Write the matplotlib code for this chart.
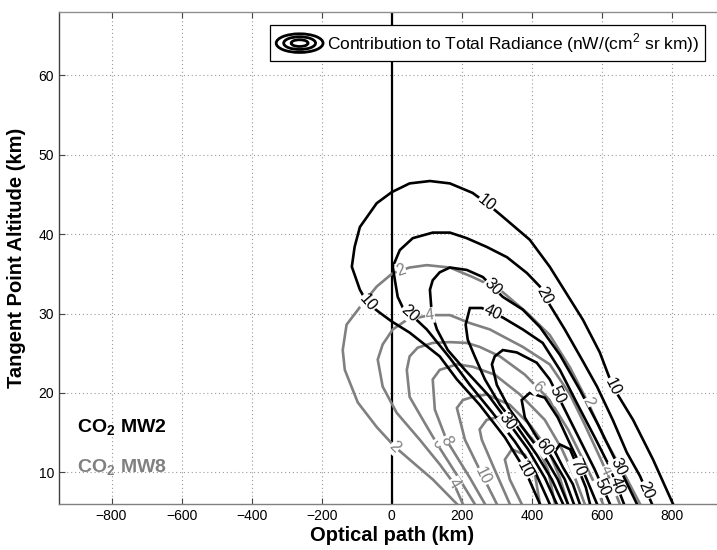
import numpy as np
import matplotlib
matplotlib.use("Agg")
import matplotlib.pyplot as plt
from matplotlib.patches import Ellipse
from matplotlib.legend_handler import HandlerBase
from matplotlib.lines import Line2D

plt.rcParams['font.family'] = ['Liberation Sans', 'DejaVu Sans']
plt.rcParams['mathtext.fontset'] = 'custom'
plt.rcParams['mathtext.rm'] = 'Liberation Sans'
plt.rcParams['mathtext.bf'] = 'Liberation Sans:bold'

# contour lines: optical path (km) vs tangent altitude (km)
mw2_levels = [10, 20, 30, 40, 50, 60, 70]
mw2_x = [
    [423, 380, 323, 251, 186, 137, 51, 0, -34, -69, -91, -114, -106, -91, -43, 0, 51, 109, 166, 231,
     271, 317, 394, 451, 546, 594, 631, 689, 746, 803],
    [451, 409, 351, 286, 223, 166, 100, 71, 31, 17, 9, 3, 23, 60, 117, 166, 214, 271, 329, 386,
     423, 451, 494, 543, 586, 631, 671, 709, 743],
    [471, 437, 389, 331, 274, 209, 160, 129, 114, 109, 117, 137, 166, 214, 260, 317, 374, 423, 480, 537,
     589, 631, 666, 700],
    [489, 457, 414, 360, 309, 266, 237, 217, 211, 223, 257, 317, 374, 431, 480, 531, 583, 623, 663],
    [503, 474, 437, 389, 337, 300, 286, 294, 317, 357, 414, 451, 494, 537, 580, 623],
    [520, 494, 457, 414, 380, 371, 394, 437, 474, 514, 551, 586],
    [537, 517, 489, 466, 480, 509, 531, 554, 566],
]
mw2_alt = [
    [6.0, 10.3, 14.4, 18.5, 21.7, 24.6, 27.6, 29.0, 30.1, 31.3, 33.0, 35.9, 38.4, 40.9, 43.9, 45.3, 46.4, 46.7,
     46.4, 45.2, 43.9, 42.2, 39.3, 35.9, 29.2, 25.1, 20.8, 16.6, 11.6, 6.0],
    [6.0, 10.1, 13.9, 17.6, 21.0, 24.4, 28.0, 29.2, 30.8, 32.1, 34.2, 35.9, 38.0, 39.5, 40.2, 40.2, 39.5, 38.4,
     37.1, 35.1, 33.4, 31.1, 28.0, 24.2, 20.8, 16.6, 12.5, 9.5, 6.0],
    [6.0, 9.3, 12.9, 16.4, 19.8, 22.9, 25.4, 28.0, 30.1, 33.0, 34.2, 35.2, 35.8, 35.5, 34.6, 32.1, 30.5, 28.3,
     24.8, 20.4, 16.0, 12.2, 9.1, 6.0],
    [6.0, 9.1, 12.2, 15.6, 18.5, 21.7, 24.6, 26.7, 28.6, 30.7, 30.7, 29.5, 28.0, 26.3, 22.9, 18.5, 14.1, 10.6, 6.0],
    [6.0, 9.1, 11.9, 14.7, 17.9, 21.0, 23.6, 24.6, 25.4, 25.1, 23.8, 21.7, 17.9, 14.1, 10.3, 6.0],
    [6.0, 9.1, 11.9, 14.4, 16.9, 19.1, 20.0, 19.4, 16.9, 13.1, 9.7, 6.0],
    [6.0, 8.5, 10.6, 12.6, 13.5, 12.9, 10.6, 8.1, 6.0],
]

mw8_levels = [2, 4, 6, 8, 10, 12, 14]
mw8_x = [
    [186, 117, 51, 9, -43, -97, -134, -140, -129, -91, -43, 3, 51, 100, 166, 231, 309, 386, 451, 509,
     560, 609, 660, 709],
    [203, 177, 137, 80, 14, -26, -40, -26, 3, 43, 109, 166, 223, 280, 374, 451, 509, 551, 594, 629, 651],
    [237, 194, 129, 89, 51, 43, 51, 74, 117, 166, 214, 251, 309, 380, 451, 503, 546, 580, 603],
    [266, 223, 157, 123, 117, 137, 186, 231, 294, 366, 437, 486, 523, 551],
    [300, 260, 209, 186, 203, 231, 271, 337, 394, 446, 480, 503],
    [337, 294, 257, 251, 271, 309, 366, 414, 446, 466],
    [371, 337, 323, 343, 380, 409, 423],
]
mw8_alt = [
    [6.0, 9.1, 11.6, 13.2, 15.7, 18.8, 22.9, 25.4, 28.6, 30.8, 33.4, 35.1, 35.8, 36.1, 35.8, 34.6, 33.0, 30.1,
     27.3, 23.2, 18.8, 14.1, 10.1, 6.0],
    [6.0, 8.6, 11.0, 14.1, 17.5, 20.8, 24.2, 26.1, 28.0, 29.2, 29.8, 29.8, 28.8, 28.0, 25.8, 23.6, 19.8, 16.0,
     11.9, 8.5, 6.0],
    [6.0, 9.1, 13.6, 16.6, 19.5, 22.9, 24.6, 25.7, 26.3, 26.4, 26.3, 25.8, 24.6, 22.3, 19.1, 15.4, 11.6, 8.5, 6.0],
    [6.0, 9.3, 14.0, 17.9, 21.7, 22.9, 23.6, 23.3, 22.3, 19.8, 16.6, 12.9, 9.3, 6.0],
    [6.0, 9.5, 14.1, 18.1, 19.1, 19.5, 19.8, 18.5, 16.0, 12.9, 9.3, 6.0],
    [6.0, 10.3, 14.1, 15.4, 16.6, 17.0, 16.0, 13.5, 10.3, 6.0],
    [6.0, 9.1, 11.6, 12.9, 12.2, 9.7, 6.0],
]

# where the inline labels sit (position along each polyline, in vertex units)
mw2_label_at = [[1.0, 9.0, 20.0, 26.0], [7.5, 20.5, 27.5], [3.0, 14.5, 21.5], [10.5, 17.5],
                [11.5, 14.5], [2.5], [6.0]]
mw8_label_at = [[3.0, 11.5, 20.0], [1.0, 10.0, 18.5], [2.0, 13.5], [2.0], [1.0], [], []]

black = 'black'
gray = '#808080'

fig = plt.figure(figsize=(7.17, 5.5), dpi=100)
ax = fig.add_axes([59 / 717, 46 / 550, 665.5 / 717, 492 / 550])
ax.set_xlim(-950, 950)
ax.set_ylim(6, 68)

ax.set_xticks(np.arange(-800, 801, 200))
ax.set_yticks(np.arange(10, 61, 10))
ax.tick_params(direction='in', length=4, labelsize=10, top=True, right=True, colors='#444444',
               labelcolor='black')
ax.grid(True, color='#9a9a9a', linestyle=(0, (1, 2.5)), linewidth=0.8)
ax.set_axisbelow(True)
for side, col in (('left', '#404040'), ('bottom', '#808080'), ('top', '#909090'), ('right', '#909090')):
    ax.spines[side].set_color(col)
    ax.spines[side].set_linewidth(1.0)

# zero optical path marker
ax.axvline(0, color='black', lw=1.6, zorder=2)


def draw_set(xs, ys, levels, label_at, color):
    for xv, yv, lev, where in zip(xs, ys, levels, label_at):
        xv = np.asarray(xv, float)
        yv = np.asarray(yv, float)
        ax.plot(xv, yv, color=color, lw=1.9, solid_joinstyle='miter', zorder=3)
        for pos in where:
            i = int(np.floor(pos))
            f = pos - i
            j = min(i + 1, len(xv) - 1)
            px = xv[i] + f * (xv[j] - xv[i])
            py = yv[i] + f * (yv[j] - yv[i])
            a = max(i - 1, 0) if f == 0 else i
            b = min(i + 1, len(xv) - 1) if f == 0 else j
            p0 = ax.transData.transform((xv[a], yv[a]))
            p1 = ax.transData.transform((xv[b], yv[b]))
            ang = np.degrees(np.arctan2(p1[1] - p0[1], p1[0] - p0[0]))
            if ang > 90:
                ang -= 180
            elif ang < -90:
                ang += 180
            ax.text(px, py, str(lev), color=color, fontsize=11.5, rotation=ang,
                    rotation_mode='anchor', ha='center', va='center', zorder=5,
                    bbox=dict(facecolor='white', edgecolor='none', pad=0.4))


draw_set(mw8_x, mw8_alt, mw8_levels, mw8_label_at, gray)
draw_set(mw2_x, mw2_alt, mw2_levels, mw2_label_at, black)

ax.text(0.027, 0.154, r'CO$_\mathbf{2}$ MW2', transform=ax.transAxes, fontsize=14,
        fontweight='bold', color=black, ha='left', va='center', zorder=6)
ax.text(0.027, 0.073, r'CO$_\mathbf{2}$ MW8', transform=ax.transAxes, fontsize=14,
        fontweight='bold', color=gray, ha='left', va='center', zorder=6)

ax.set_xlabel('Optical path (km)', fontsize=14.5, fontweight='bold')
ax.set_ylabel('Tangent Point Altitude (km)', fontsize=14.5, fontweight='bold')
ax.xaxis.set_label_coords(0.5, -0.045)
ax.yaxis.set_label_coords(-0.05, 0.5)


class ContourIcon(HandlerBase):
    """Legend key drawn as nested ellipses, like a contour symbol."""
    def create_artists(self, legend, orig_handle, xdescent, ydescent, width, height, fontsize, trans):
        cx = width / 2 - xdescent
        cy = height / 2 - ydescent
        arts = []
        for k in (1.0, 0.68, 0.36):
            arts.append(Ellipse((cx, cy), width * k, height * 1.2 * k, fill=False,
                                edgecolor='black', lw=2.0, transform=trans))
        return arts


dummy = Line2D([], [], color='black')
leg = ax.legend([dummy], ['Contribution to Total Radiance (nW/(cm$^2$ sr km))'],
                handler_map={Line2D: ContourIcon()}, loc='upper right',
                bbox_to_anchor=(705 / 717, 1 - 25 / 550), bbox_transform=fig.transFigure,
                borderaxespad=0, fontsize=12.5, fancybox=False, framealpha=1,
                handlelength=2.7, handleheight=1.0, handletextpad=0.2, borderpad=0.35)
leg.get_frame().set_edgecolor('black')
leg.get_frame().set_linewidth(0.9)

fig.savefig('out.png', dpi=100)
